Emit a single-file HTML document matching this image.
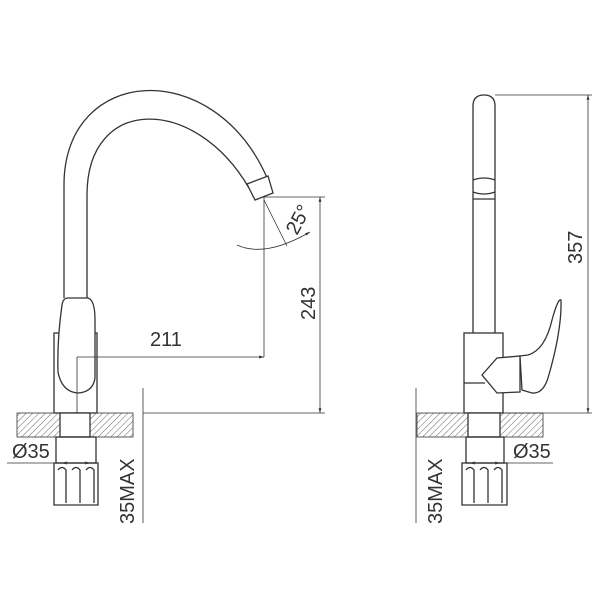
<!DOCTYPE html>
<html><head><style>body{margin:0;background:#fff}svg{display:block}</style></head><body>
<svg width="600" height="600" viewBox="0 0 600 600" xmlns="http://www.w3.org/2000/svg" font-family="Liberation Sans, sans-serif">
<defs>
<pattern id="h" width="4.5" height="4.5" patternUnits="userSpaceOnUse" patternTransform="rotate(45)">
<line x1="0" y1="0" x2="0" y2="4.5" stroke="#666" stroke-width="1"/></pattern>
<marker id="a" viewBox="0 0 10 10" refX="10" refY="5" markerWidth="6" markerHeight="6" orient="auto-start-reverse"><path d="M0,2 L10,5 L0,8z" fill="#333"/></marker>
</defs>
<g fill="none" stroke="#333" stroke-width="1.3">
<path d="M64,298 L64,185 C64,65 215,55 268,180"/>
<path d="M87,298 L87,195 C87,95 195,95 249,188"/>
<path d="M247,184 L268,176 L273,193 L255,200 Z" fill="#fff"/>
<rect x="54" y="333" width="43" height="80" fill="#fff"/>
<path d="M68,298 L88,298 Q95,300 95,320 L95,378 Q93,392 78,393 Q62,392 58,372 Q57,340 62,305 Q63,298 68,298Z" fill="#fff"/>
<rect x="17" y="413" width="43" height="24" fill="url(#h)" stroke="none"/>
<rect x="90" y="413" width="43" height="24" fill="url(#h)" stroke="none"/>
<rect x="17" y="413" width="116" height="24" fill="none" stroke-width="0.8"/>
<rect x="60" y="413" width="30" height="24" fill="#fff"/>
<rect x="56" y="437" width="40" height="26"/>
<path d="M54,463 L98,463 L98,505 L54,505 Z"/>
<path d="M58,470 Q62,465 66,470 L66,503 M72,470 Q76,465 80,470 L80,503 M86,470 Q90,465 94,470 L94,503"/>
<g stroke-width="0.8">
<line x1="77" y1="357" x2="77" y2="413"/>
<line x1="77" y1="357" x2="264" y2="357" marker-end="url(#a)"/>
<line x1="264" y1="197" x2="264" y2="357"/>
<line x1="264" y1="197" x2="325" y2="197"/>
<line x1="143" y1="413" x2="325" y2="413"/>
<line x1="320" y1="197" x2="320" y2="413" marker-start="url(#a)" marker-end="url(#a)"/>
<line x1="264" y1="200" x2="287" y2="246"/>
<path d="M237,245 Q265,258 310,232" marker-end="url(#a)"/>
<line x1="143" y1="388" x2="143" y2="523"/>
<line x1="7" y1="463" x2="97" y2="463"/>
<line x1="62" y1="463" x2="90" y2="463" marker-start="url(#a)" marker-end="url(#a)"/>
</g>
<path d="M473,333 L473,106 Q473,95 484,95 Q495,95 495,106 L495,333"/>
<path d="M473,180 Q484,176 495,180 M473,192 Q484,196 495,192 M473,199 L495,199"/>
<rect x="464" y="333" width="39" height="80" fill="#fff"/>
<line x1="464" y1="383" x2="485" y2="383"/>
<path d="M497,358 L520,356 L520,392 L497,393 L482,375 Z" fill="#fff"/>
<path d="M520,356 L528,355 Q545,350 552,320 Q558,298 561,300 Q562,330 548,378 Q543,394 532,393 L522,390 Z" fill="#fff"/>
<rect x="417" y="413" width="51" height="24" fill="url(#h)" stroke="none"/>
<rect x="500" y="413" width="43" height="24" fill="url(#h)" stroke="none"/>
<rect x="417" y="413" width="126" height="24" stroke-width="0.8"/>
<rect x="468" y="413" width="32" height="24" fill="#fff"/>
<rect x="466" y="437" width="38" height="26"/>
<path d="M462,463 L507,463 L507,505 L462,505 Z"/>
<path d="M466,470 Q470,465 474,470 L474,503 M480,470 Q484,465 488,470 L488,503 M494,470 Q498,465 502,470 L502,503"/>
<g stroke-width="0.8">
<line x1="495" y1="95" x2="592" y2="95"/>
<line x1="503" y1="413" x2="592" y2="413"/>
<line x1="588" y1="95" x2="588" y2="413" marker-start="url(#a)" marker-end="url(#a)"/>
<line x1="416" y1="388" x2="416" y2="523"/>
<line x1="468" y1="463" x2="553" y2="463"/>
<line x1="470" y1="463" x2="500" y2="463" marker-start="url(#a)" marker-end="url(#a)"/>
</g>
</g>
<g fill="#333" font-size="20">
<text x="150" y="346">211</text>
<text transform="translate(315,320) rotate(-90)">243</text>
<text transform="translate(297,236) rotate(-62)">25°</text>
<text x="12" y="458">Ø35</text>
<text transform="translate(134,524) rotate(-90)">35MAX</text>
<text transform="translate(582,264) rotate(-90)">357</text>
<text x="513" y="458">Ø35</text>
<text transform="translate(442,524) rotate(-90)">35MAX</text>
</g>
</svg>
</body></html>
